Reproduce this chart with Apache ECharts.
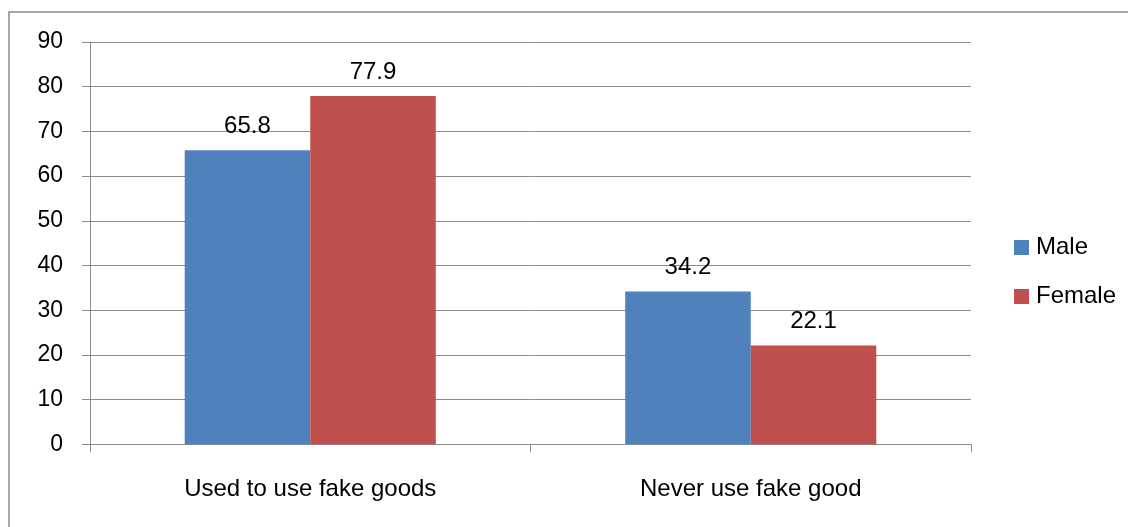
<!DOCTYPE html>
<html>
<head>
<meta charset="utf-8">
<script src="https://cdn.jsdelivr.net/npm/echarts@6/dist/echarts.min.js"></script>
<style>
html,body{margin:0;padding:0;background:#fff;}
#chart{width:1128px;height:527px;}
</style>
</head>
<body>
<div id="chart"></div>
<script>
var categories = ["Used to use fake goods", "Never use fake good"];
var seriesNames = ["Male", "Female"];
var maleValues = [65.8, 34.2];
var femaleValues = [77.9, 22.1];

var FONT = "'Liberation Sans', Arial, sans-serif";
var chart = echarts.init(document.getElementById('chart'), null, {renderer: 'canvas'});
var gridColor = '#8c8c8c';
var option = {
  animation: false,
  backgroundColor: '#ffffff',
  textStyle: {fontFamily: FONT},
  graphic: [{
    type: 'rect',
    shape: {x: 9, y: 12, width: 1140, height: 540},
    style: {fill: 'none', stroke: '#8a8a8a', lineWidth: 1.5},
    silent: true,
    z: 0
  }],
  grid: {left: 90, right: 157, top: 42, bottom: 82.7, containLabel: false},
  legend: {
    orient: 'vertical',
    left: 1014,
    top: 235.5,
    padding: 0,
    itemWidth: 15,
    itemHeight: 15,
    itemGap: 25,
    icon: 'rect',
    textStyle: {fontSize: 24, color: '#000', fontFamily: FONT, lineHeight: 24, padding: [0, 0, 0, 2]},
    data: seriesNames
  },
  xAxis: {
    type: 'category',
    data: categories,
    axisLine: {show: true, lineStyle: {color: gridColor, width: 1}},
    axisTick: {show: true, length: 8, lineStyle: {color: gridColor}},
    axisLabel: {color: '#000', fontSize: 24, fontFamily: FONT, margin: 33}
  },
  yAxis: {
    type: 'value',
    min: 0,
    max: 90,
    interval: 10,
    axisLine: {show: true, lineStyle: {color: gridColor, width: 1}},
    axisTick: {show: true, length: 8, inside: false, lineStyle: {color: gridColor}},
    axisLabel: {color: '#000', fontSize: 23, fontFamily: FONT, margin: 27},
    splitLine: {show: true, lineStyle: {color: gridColor, width: 1}}
  },
  series: [
    {
      name: seriesNames[0],
      type: 'bar',
      data: maleValues,
      barGap: '0%',
      barCategoryGap: '43%',
      itemStyle: {color: '#4F81BD'},
      label: {show: true, position: 'top', distance: 12, color: '#000', fontSize: 24, fontFamily: FONT}
    },
    {
      name: seriesNames[1],
      type: 'bar',
      data: femaleValues,
      barGap: '0%',
      barCategoryGap: '43%',
      itemStyle: {color: '#C0504D'},
      label: {show: true, position: 'top', distance: 12, color: '#000', fontSize: 24, fontFamily: FONT}
    }
  ]
};
chart.setOption(option);
</script>
</body>
</html>
